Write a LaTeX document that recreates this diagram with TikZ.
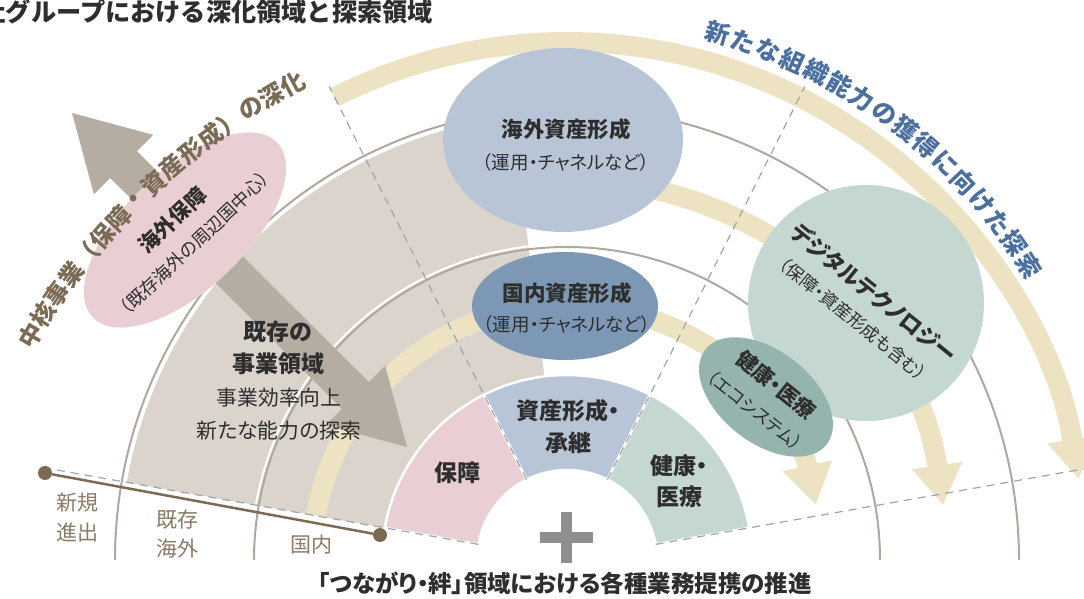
\documentclass[tikz,border=0pt]{standalone}
\usepackage{fontspec}
\setmainfont{Noto Sans CJK JP}[RawFeature=+palt]
\newfontfamily\fullw{Noto Sans CJK JP}
\usetikzlibrary{shapes.geometric,arrows.meta,calc}
\definecolor{tanc}{HTML}{DAD4CD}
\definecolor{arcc}{HTML}{B0A79E}
\definecolor{creamc}{HTML}{EDE3C2}
\definecolor{arrowc}{HTML}{B5ACA2}
\definecolor{pinkc}{HTML}{E9CFD3}
\definecolor{bluelc}{HTML}{B8C5D7}
\definecolor{bluedc}{HTML}{7C98B5}
\definecolor{greenlc}{HTML}{C5D7D1}
\definecolor{tealc}{HTML}{96B4AE}
\definecolor{dashc}{HTML}{9EA4AE}
\definecolor{brownc}{HTML}{7B6B55}
\definecolor{labc}{HTML}{8A7A66}
\definecolor{bluetc}{HTML}{4B6F9F}
\definecolor{darkc}{HTML}{2E2E2E}
\definecolor{plusc}{HTML}{8F8F91}
\tikzset{
  lbl/.style={inner sep=0pt, text=darkc, align=center},
  band/.style={creamc, line width=20pt, -{Triangle[length=40pt,width=48pt]}},
  dashl/.style={dashc, line width=1.2pt, dash pattern=on 8pt off 6pt},
  sector/.style={draw=white, line width=2.5pt},
  blob/.style={inner sep=0pt, draw=none},
}
\begin{document}
\begin{tikzpicture}[x=1pt,y=1pt]
\useasboundingbox (0,0) rectangle (1084,599);
\coordinate (C) at (567,39);
% existing business area
\fill[tanc] ($(C)+(97:185)$) arc[start angle=97,end angle=170,radius=185pt]
  -- ($(C)+(170:447)$) arc[start angle=170,end angle=97,radius=447pt] -- cycle;
% grey arcs
\draw[arcc, line width=2pt] ($(C)+(0:452)$) arc[start angle=0,end angle=180,radius=452pt];
\draw[white, line width=2pt] ($(C)+(10:316)$) arc[start angle=10,end angle=170,radius=316pt];
\draw[arcc, line width=2pt] ($(C)+(0:313)$) arc[start angle=0,end angle=180,radius=313pt];
% cream bands
\draw[band] ($(C)+(116.7:518)$) arc[start angle=116.7,end angle=9,radius=518pt];
\draw[band] ($(C)+(97:380)$) arc[start angle=97,end angle=8.3,radius=380pt];
\draw[band] ($(C)+(170:255)$) arc[start angle=170,end angle=12.5,radius=255pt];
% big double arrow
\fill[arrowc] (72,486) -- (153.3,464.1) -- (137,447.8) -- (368.8,217) -- (385.1,233.3)
  -- (407,152) -- (325.7,173.9) -- (342,190.2) -- (110.2,421) -- (93.9,404.7) -- cycle;
% sectors
\filldraw[sector, fill=pinkc] ($(C)+(170:90)$) -- ($(C)+(170:185)$) arc[start angle=170,end angle=116.67,radius=185pt]
  -- ($(C)+(116.67:90)$) arc[start angle=116.67,end angle=170,radius=90pt] -- cycle;
\filldraw[sector, fill=bluelc] ($(C)+(116.67:90)$) -- ($(C)+(116.67:185)$) arc[start angle=116.67,end angle=63.33,radius=185pt]
  -- ($(C)+(63.33:90)$) arc[start angle=63.33,end angle=116.67,radius=90pt] -- cycle;
\filldraw[sector, fill=greenlc] ($(C)+(63.33:90)$) -- ($(C)+(63.33:185)$) arc[start angle=63.33,end angle=10,radius=185pt]
  -- ($(C)+(10:90)$) arc[start angle=10,end angle=63.33,radius=90pt] -- cycle;
% dashed radial lines
\draw[dashl] ($(C)+(170:90)$) -- ($(C)+(170:525)$);
\draw[dashl] ($(C)+(10:90)$) -- ($(C)+(10:525)$);
\draw[dashl] ($(C)+(116.67:90)$) -- ($(C)+(116.67:530)$);
\draw[dashl] ($(C)+(63.33:90)$) -- ($(C)+(63.33:530)$);
% brown base line
\node[circle, fill=brownc, minimum size=14pt, inner sep=0pt] (d1) at (45,126) {};
\node[circle, fill=brownc, minimum size=14pt, inner sep=0pt] (d2) at (380,64) {};
\draw[brownc, line width=2.5pt] (d1) -- (d2);
% plus
\fill[plusc] (539.5,56) rectangle (592.5,67);
\fill[plusc] (560.5,36) rectangle (571.5,87);
% ellipses
\node[blob, ellipse, fill=pinkc, minimum width=254pt, minimum height=120pt, rotate=43.4] (e1) at (185,369) {};
\node[blob, ellipse, fill=bluelc, minimum width=240pt, minimum height=184pt] (e2) at (563,459) {};
\node[blob, ellipse, fill=bluedc, minimum width=186pt, minimum height=108pt] (e3) at (565,293) {};
\node[blob, circle, fill=greenlc, minimum size=236pt] (e4) at (866,296) {};
\node[blob, ellipse, fill=tealc, minimum width=154pt, minimum height=92pt, rotate=-38] (e5) at (766,202) {};
% texts in ellipses
\node[lbl, rotate=43.4, font=\fontsize{18}{31}\selectfont] (t1) at (183,368)
  {{\bfseries\fontsize{21}{31}\selectfont 海外保障}\\（既存海外の周辺国中心）};
\node[lbl, font=\fontsize{18.5}{32}\selectfont] (t2) at (566,454)
  {{\bfseries\fontsize{21.5}{32}\selectfont 海外資産形成}\\（運用・チャネルなど）};
\node[lbl, font=\fontsize{18.5}{30}\selectfont] (t3) at (567,291)
  {{\bfseries\fontsize{21.5}{30}\selectfont 国内資産形成}\\（運用・チャネルなど）};
\node[lbl, rotate=-39, font=\fontsize{17.5}{31}\selectfont] (t4) at (864,294)
  {{\bfseries\fontsize{22}{31}\selectfont デジタルテクノロジー}\\（保障・資産形成も含む）};
\node[lbl, rotate=-38.8, font=\fontsize{17.5}{32}\selectfont] (t5) at (766,202)
  {{\bfseries\fontsize{21}{32}\selectfont 健康・医療}\\（エコシステム）};
% sector texts
\node[lbl, font=\bfseries\fontsize{23}{28}\selectfont] (s1) at (457,126) {保障};
\node[lbl, font=\bfseries\fontsize{23}{32}\selectfont] (s2) at (568,172) {資産形成・\\承継};
\node[lbl, font=\bfseries\fontsize{23}{31}\selectfont] (s3) at (679,117.5) {健康・\\医療};
% existing area texts
\node[lbl, font=\bfseries\fontsize{23}{32}\selectfont] (x1) at (278,251) {既存の\\事業領域};
\node[lbl, font=\fontsize{20.8}{33}\selectfont] (x2) at (279,184.5) {事業効率向上\\新たな能力の探索};
% bottom labels
\node[lbl, text=labc, font=\fontsize{21}{30}\selectfont] (b1) at (77,81) {新規\\進出};
\node[lbl, text=labc, font=\fontsize{21}{29}\selectfont] (b2) at (177,64.5) {既存\\海外};
\node[lbl, text=labc, font=\fontsize{21}{29}\selectfont] (b3) at (311,54) {国内};
% titles
\node[inner sep=0pt, anchor=base east, text=darkc, font=\fullw\bfseries\fontsize{25.2}{26}\selectfont] (title) at (433,577) {当社グループにおける深化領域と探索領域};
\node[lbl, font=\bfseries\fontsize{23.5}{26}\selectfont] (btitle) at (565,16) {「つながり・絆」領域における各種業務提携の推進};
% curved texts
\foreach \ch [count=\i from 0] in {中,核,事,業,（,保,障,・,資,産,形,成,）,の,深,化}{
  \pgfmathsetmacro\aa{149.4-2.07*\i}
  \pgfmathsetmacro\rr{\aa-90}
  \node[inner sep=0pt, text=brownc, font=\fullw\bfseries\fontsize{24}{24}\selectfont, rotate=\rr] (L\i) at ($(616,-83)+(\aa:680)$) {\ch};
}
\foreach \ch [count=\i from 0] in {新,た,な,組,織,能,力,の,獲,得,に,向,け,た,探,索}{
  \pgfmathsetmacro\aa{74-2.767*\i}
  \pgfmathsetmacro\rr{\aa-90}
  \node[inner sep=0pt, text=bluetc, font=\fullw\bfseries\fontsize{24.5}{24.5}\selectfont, rotate=\rr] (R\i) at ($(C)+(\aa:548)$) {\ch};
}
\end{tikzpicture}
\end{document}
